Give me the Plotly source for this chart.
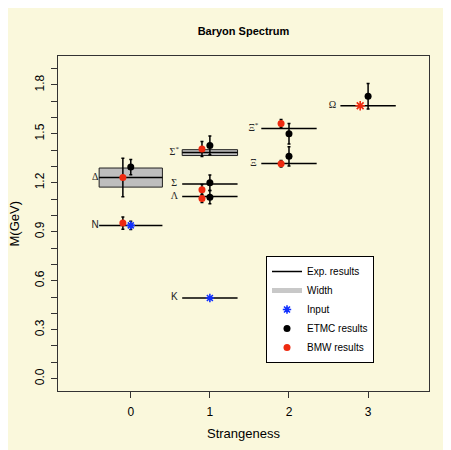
import plotly.graph_objects as go

# ---------------- data ----------------
particles = ["N", "Δ", "Λ", "Σ", "Σ<sup>*</sup>", "Ξ", "Ξ<sup>*</sup>", "Ω", "K"]
strangeness = [0, 0, 1, 1, 1, 2, 2, 3, 1]
exp_mass = [0.939, 1.232, 1.116, 1.193, 1.385, 1.318, 1.532, 1.672, 0.494]
exp_width = [0.0, 0.117, 0.0, 0.0, 0.036, 0.0, 0.0, 0.0, 0.0]
half_len = [0.4, 0.4, 0.35, 0.35, 0.35, 0.35, 0.35, 0.35, 0.35]
label_font = ["Liberation Sans", "Liberation Serif", "Liberation Serif", "Liberation Serif",
              "Liberation Serif", "Liberation Serif", "Liberation Serif", "Liberation Serif",
              "Liberation Sans"]

input_s = [0, 1]
input_mass = [0.939, 0.494]
input_err = [0.025, 0.0]

etmc_s = [0, 1, 1, 1, 2, 2, 3]
etmc_mass = [1.296, 1.112, 1.200, 1.429, 1.362, 1.501, 1.730]
etmc_err = [0.047, 0.040, 0.047, 0.057, 0.059, 0.063, 0.078]

bmw_s = [0, 0, 1, 1, 1, 2, 2]
bmw_mass = [0.953, 1.233, 1.104, 1.157, 1.407, 1.317, 1.564]
bmw_err = [0.037, 0.118, 0.025, 0.033, 0.046, 0.02, 0.024]
bmw_offset = -0.1

bmw_input_s = [3]
bmw_input_mass = [1.672]

label_offset = -0.45

y_tick_vals = [0.0, 0.3, 0.6, 0.9, 1.2, 1.5, 1.8]
y_tick_text = ["0.0", "0.3", "0.6", "0.9", "1.2", "1.5", "1.8"]
y_minor_vals = [0.1, 0.2, 0.4, 0.5, 0.7, 0.8, 1.0, 1.1, 1.3, 1.4, 1.6, 1.7, 1.9]
x_tick_vals = [0, 1, 2, 3]
x_tick_text = ["0", "1", "2", "3"]

# ---------------- styles ----------------
BG = "#FAF8DC"
RED = "#EE2A10"
BLUE = "#1030FF"
FONT = "Liberation Sans"

# the page body adds an 8px offset, so the figure is sized to the remaining window
W, H = 443, 442
ML, MR, MT, MB = 50, 22, 48, 59
pw = W - ML - MR
ph = H - MT - MB


def px_x(p):
    return (p - ML) / pw


def px_y(p):
    return (H - MB - p) / ph


fig = go.Figure()

# width boxes
for s, m, w, h in zip(strangeness, exp_mass, exp_width, half_len):
    if w > 0:
        fig.add_trace(go.Scatter(
            x=[s - h, s + h, s + h, s - h, s - h],
            y=[m - w / 2, m - w / 2, m + w / 2, m + w / 2, m - w / 2],
            mode="lines", fill="toself", fillcolor="#BEBEBE",
            line=dict(color="#222222", width=1),
            showlegend=False, hoverinfo="skip"))

# experimental lines
lx, ly = [], []
for s, m, h in zip(strangeness, exp_mass, half_len):
    lx += [s - h, s + h, None]
    ly += [m, m, None]
fig.add_trace(go.Scatter(x=lx, y=ly, mode="lines",
                         line=dict(color="black", width=1.5),
                         name="Exp. results"))

# width legend entry
fig.add_trace(go.Scatter(x=[None], y=[None], mode="lines",
                         line=dict(color="#C8C8C8", width=5),
                         name="Width"))

# labels
fig.add_trace(go.Scatter(
    x=[s + label_offset for s in strangeness], y=exp_mass,
    mode="text", text=particles,
    textfont=dict(family=label_font, size=10, color="#222222"),
    textposition="middle center",
    showlegend=False, hoverinfo="skip"))

# input
fig.add_trace(go.Scatter(
    x=input_s, y=input_mass, mode="markers", name="Input",
    marker=dict(symbol="asterisk-open", size=7, color=BLUE,
                line=dict(color=BLUE, width=1.6)),
    error_y=dict(type="data", array=input_err, color="black",
                 thickness=1.5, width=1.5)))

# ETMC
fig.add_trace(go.Scatter(
    x=etmc_s, y=etmc_mass, mode="markers", name="ETMC results",
    marker=dict(symbol="circle", size=7, color="black"),
    error_y=dict(type="data", array=etmc_err, color="black",
                 thickness=1.5, width=1.5)))

# BMW
fig.add_trace(go.Scatter(
    x=[s + bmw_offset for s in bmw_s], y=bmw_mass, mode="markers",
    name="BMW results",
    marker=dict(symbol="circle", size=7, color=RED),
    error_y=dict(type="data", array=bmw_err, color="black",
                 thickness=1.5, width=1.5)))

fig.add_trace(go.Scatter(
    x=[s + bmw_offset for s in bmw_input_s], y=bmw_input_mass,
    mode="markers", showlegend=False,
    marker=dict(symbol="asterisk-open", size=8, color=RED,
                line=dict(color=RED, width=1.6))))

fig.add_annotation(text="M(GeV)", xref="paper", yref="paper",
                   x=px_x(6), y=px_y((MT + H - MB) / 2), textangle=-90,
                   showarrow=False, xanchor="center", yanchor="middle",
                   font=dict(size=13, family=FONT))
fig.add_annotation(text="Strangeness", xref="paper", yref="paper",
                   x=px_x(ML + pw / 2), y=px_y(425),
                   showarrow=False, xanchor="center", yanchor="middle",
                   font=dict(size=13, family=FONT))

fig.update_layout(
    width=W, height=H,
    margin=dict(l=ML, r=MR, t=MT, b=MB, autoexpand=False),
    paper_bgcolor=BG, plot_bgcolor=BG,
    font=dict(family=FONT, color="black"),
    title=dict(text="<b>Baryon Spectrum</b>", x=(ML + pw / 2) / W, xanchor="center",
               y=1 - 23 / H, yanchor="middle", font=dict(size=11, family=FONT)),
    xaxis=dict(range=[-0.92, 3.77], tickmode="array", tickvals=x_tick_vals,
               ticktext=x_tick_text, automargin=False, ticklabelstandoff=3,
               ticks="outside", ticklen=6, tickcolor="#333", showgrid=False,
               zeroline=False, showline=True, mirror=True, linecolor="#333",
               linewidth=1.2, tickfont=dict(size=12)),
    yaxis=dict(range=[-0.076, 1.977], tickmode="array", tickvals=y_tick_vals,
               ticktext=y_tick_text, tickangle=-90, automargin=False,
               ticklabelstandoff=2,
               ticks="outside", ticklen=6, tickcolor="#333", showgrid=False,
               zeroline=False, showline=True, mirror=True, linecolor="#333",
               linewidth=1.2, tickfont=dict(size=12),
               minor=dict(tickmode="array", tickvals=y_minor_vals, ticks="outside",
                          ticklen=6, tickcolor="#333", showgrid=False)),
    legend=dict(x=px_x(258), y=px_y(248), xanchor="left", yanchor="top",
                bgcolor="white", bordercolor="black", borderwidth=1,
                font=dict(size=10), tracegroupgap=0, itemwidth=30),
    showlegend=True,
)

fig.write_html("out.html")
